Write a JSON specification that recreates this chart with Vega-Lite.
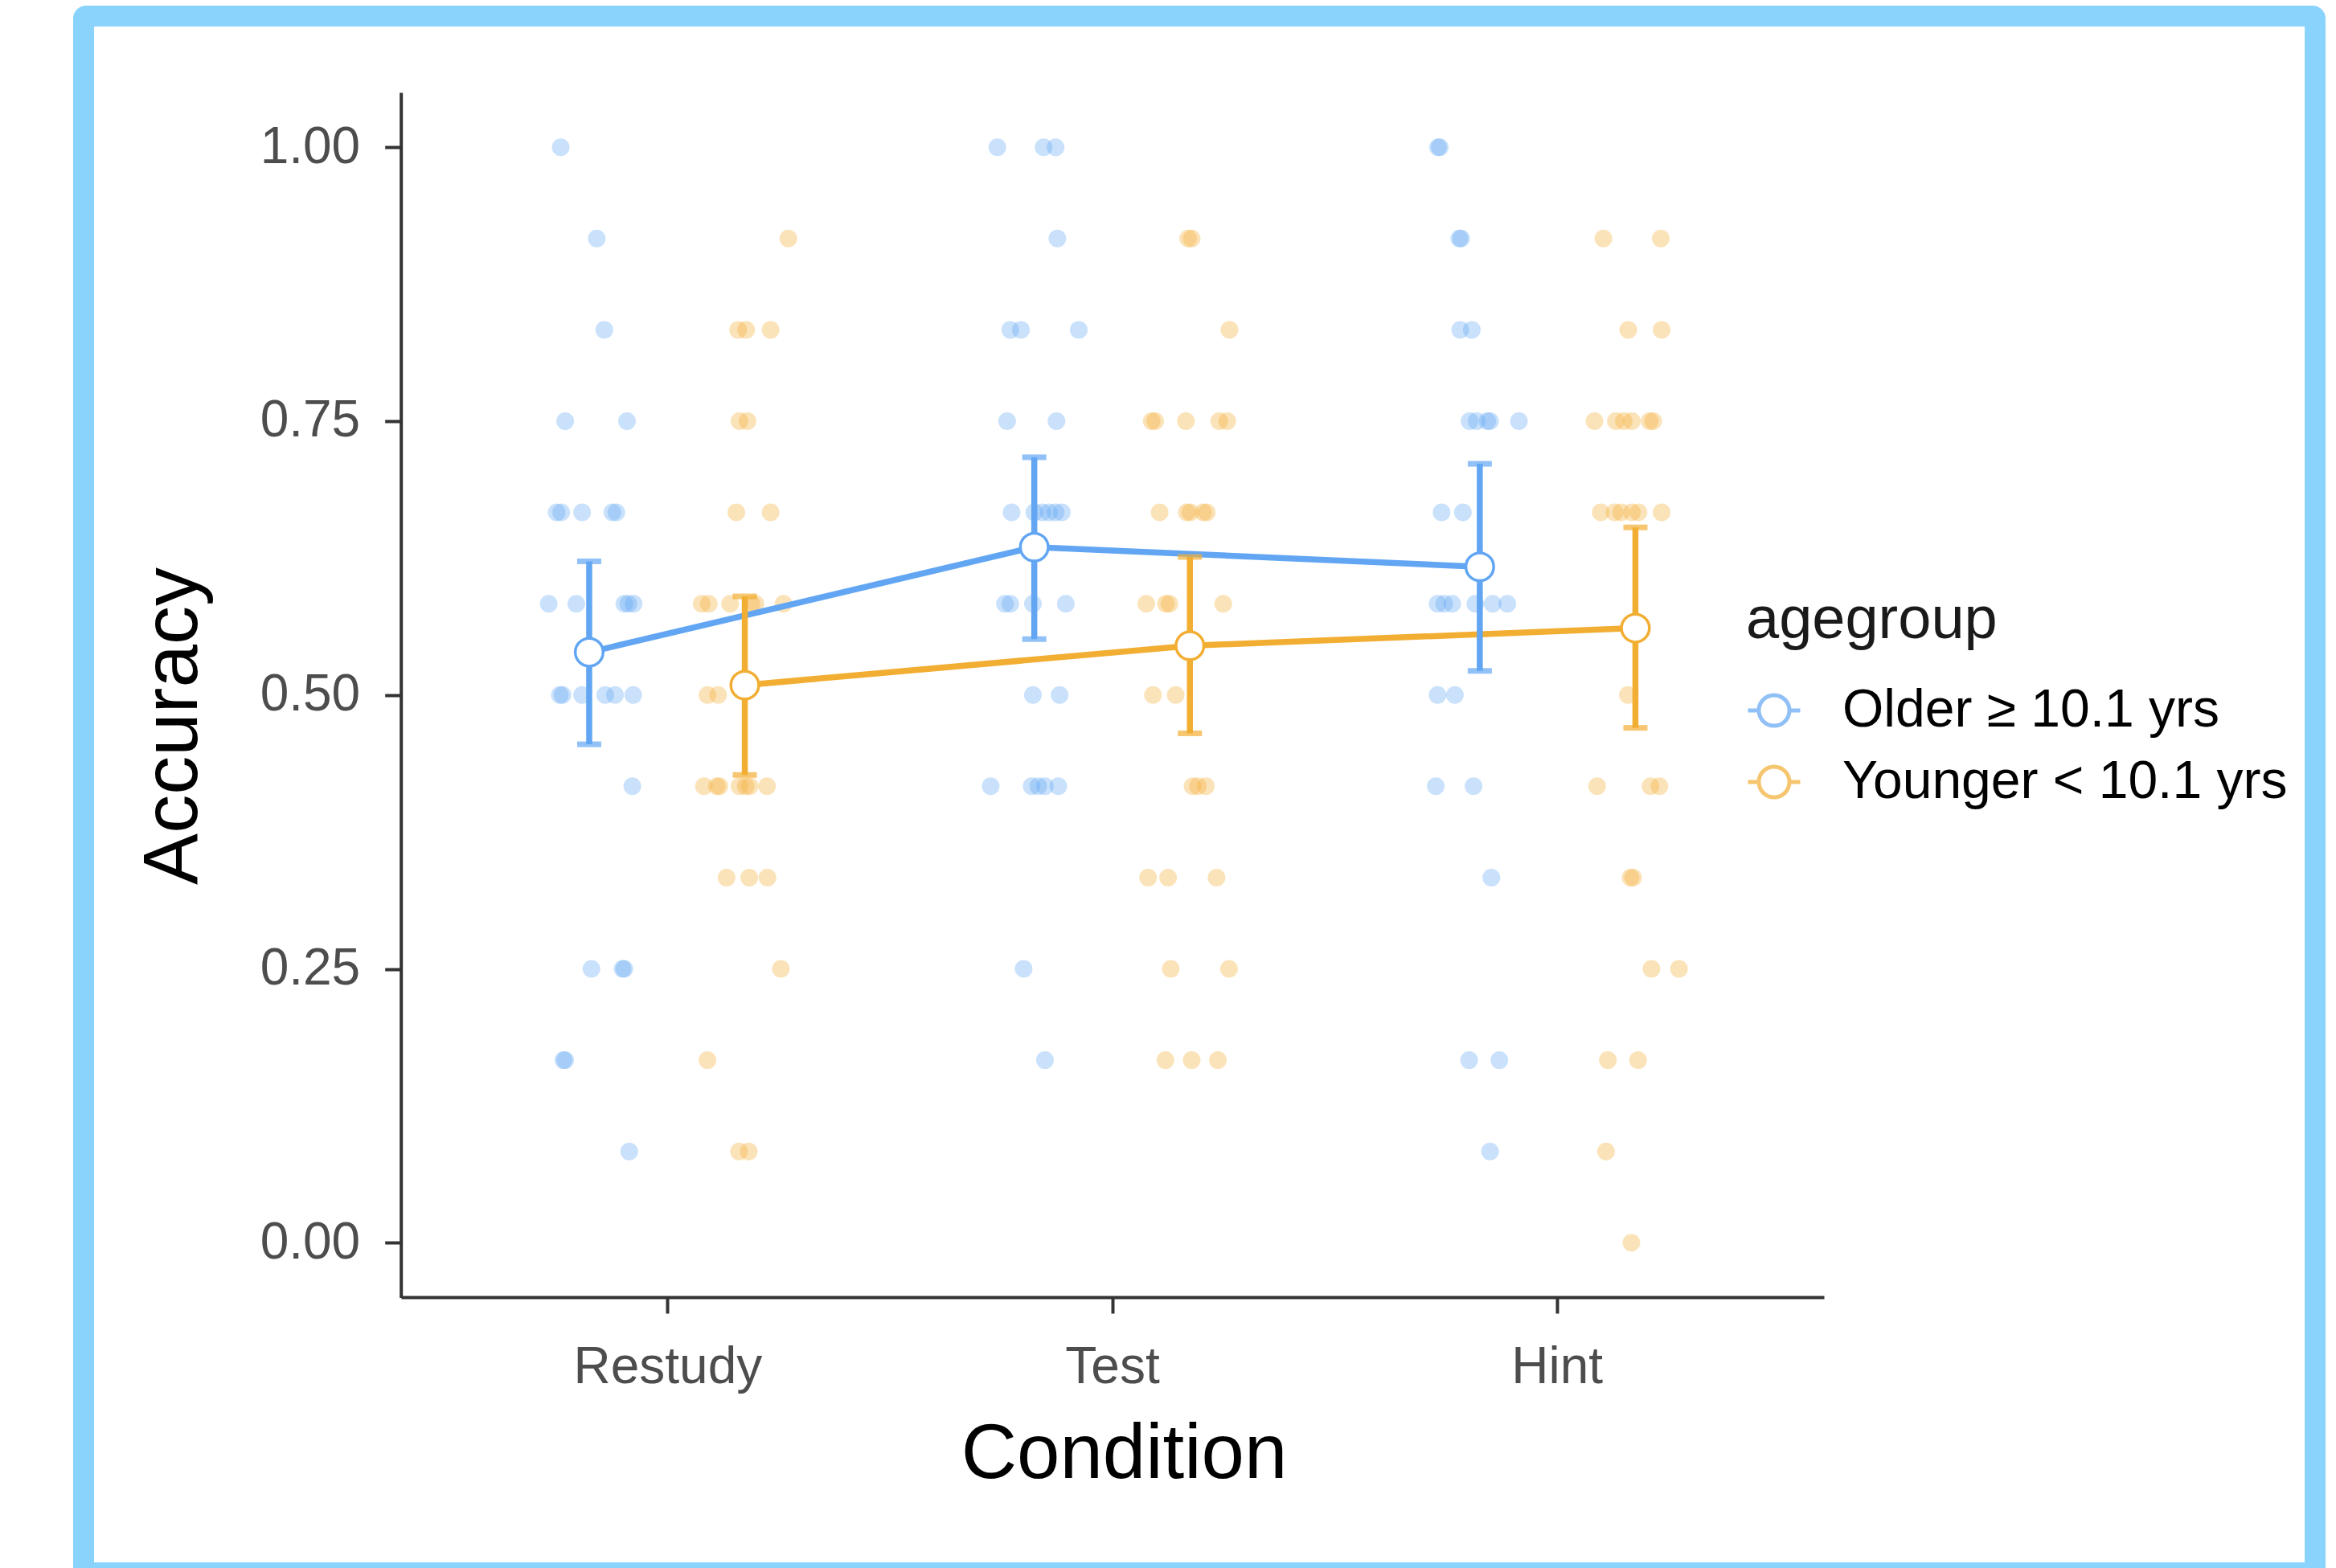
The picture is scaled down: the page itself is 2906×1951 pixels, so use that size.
{
  "$schema": "https://vega.github.io/schema/vega-lite/v6.json",
  "width": 2776,
  "height": 1937,
  "autosize": {"type": "none"},
  "padding": {"left": 104, "top": 20, "right": 26, "bottom": 0},
  "background": "white",
  "config": {
    "view": {"fill": "white", "stroke": "#8AD3FC", "strokeWidth": 26, "cornerRadius": 3},
    "font": "Liberation Sans",
    "axisY": {
      "offset": -394.7, "grid": false,
      "domainColor": "#333333", "domainWidth": 4, "tickColor": "#333333", "tickWidth": 4, "tickSize": 20,
      "labelFont": "Liberation Sans", "labelFontSize": 64, "labelColor": "#4d4d4d", "labelPadding": 31, "labelFlush": false, "labelOverlap": false,
      "titleFont": "Liberation Sans", "titleFontSize": 96, "titleColor": "black", "titleFontWeight": "normal",
      "titleAngle": -90, "titleX": -254, "titleY": 883, "titleBaseline": "alphabetic", "titleAlign": "center", "titleLimit": 2000
    }
  },
  "datasets": {
    "pts": [
      {"Condition": "Restudy", "agegroup": "Older ≥ 10.1 yrs", "Accuracy": 1, "off": -0.241},
      {"Condition": "Restudy", "agegroup": "Older ≥ 10.1 yrs", "Accuracy": 0.9167, "off": -0.160},
      {"Condition": "Restudy", "agegroup": "Older ≥ 10.1 yrs", "Accuracy": 0.8333, "off": -0.143},
      {"Condition": "Restudy", "agegroup": "Older ≥ 10.1 yrs", "Accuracy": 0.75, "off": -0.231},
      {"Condition": "Restudy", "agegroup": "Older ≥ 10.1 yrs", "Accuracy": 0.75, "off": -0.092},
      {"Condition": "Restudy", "agegroup": "Older ≥ 10.1 yrs", "Accuracy": 0.6667, "off": -0.250},
      {"Condition": "Restudy", "agegroup": "Older ≥ 10.1 yrs", "Accuracy": 0.6667, "off": -0.240},
      {"Condition": "Restudy", "agegroup": "Older ≥ 10.1 yrs", "Accuracy": 0.6667, "off": -0.193},
      {"Condition": "Restudy", "agegroup": "Older ≥ 10.1 yrs", "Accuracy": 0.6667, "off": -0.125},
      {"Condition": "Restudy", "agegroup": "Older ≥ 10.1 yrs", "Accuracy": 0.6667, "off": -0.116},
      {"Condition": "Restudy", "agegroup": "Older ≥ 10.1 yrs", "Accuracy": 0.5833, "off": -0.268},
      {"Condition": "Restudy", "agegroup": "Older ≥ 10.1 yrs", "Accuracy": 0.5833, "off": -0.206},
      {"Condition": "Restudy", "agegroup": "Older ≥ 10.1 yrs", "Accuracy": 0.5833, "off": -0.098},
      {"Condition": "Restudy", "agegroup": "Older ≥ 10.1 yrs", "Accuracy": 0.5833, "off": -0.089},
      {"Condition": "Restudy", "agegroup": "Older ≥ 10.1 yrs", "Accuracy": 0.5833, "off": -0.077},
      {"Condition": "Restudy", "agegroup": "Older ≥ 10.1 yrs", "Accuracy": 0.5, "off": -0.243},
      {"Condition": "Restudy", "agegroup": "Older ≥ 10.1 yrs", "Accuracy": 0.5, "off": -0.237},
      {"Condition": "Restudy", "agegroup": "Older ≥ 10.1 yrs", "Accuracy": 0.5, "off": -0.193},
      {"Condition": "Restudy", "agegroup": "Older ≥ 10.1 yrs", "Accuracy": 0.5, "off": -0.141},
      {"Condition": "Restudy", "agegroup": "Older ≥ 10.1 yrs", "Accuracy": 0.5, "off": -0.119},
      {"Condition": "Restudy", "agegroup": "Older ≥ 10.1 yrs", "Accuracy": 0.5, "off": -0.078},
      {"Condition": "Restudy", "agegroup": "Older ≥ 10.1 yrs", "Accuracy": 0.4167, "off": -0.080},
      {"Condition": "Restudy", "agegroup": "Older ≥ 10.1 yrs", "Accuracy": 0.25, "off": -0.172},
      {"Condition": "Restudy", "agegroup": "Older ≥ 10.1 yrs", "Accuracy": 0.25, "off": -0.102},
      {"Condition": "Restudy", "agegroup": "Older ≥ 10.1 yrs", "Accuracy": 0.25, "off": -0.098},
      {"Condition": "Restudy", "agegroup": "Older ≥ 10.1 yrs", "Accuracy": 0.1667, "off": -0.235},
      {"Condition": "Restudy", "agegroup": "Older ≥ 10.1 yrs", "Accuracy": 0.1667, "off": -0.231},
      {"Condition": "Restudy", "agegroup": "Older ≥ 10.1 yrs", "Accuracy": 0.0833, "off": -0.087},

      {"Condition": "Restudy", "agegroup": "Younger < 10.1 yrs", "Accuracy": 0.9167, "off": 0.271},
      {"Condition": "Restudy", "agegroup": "Younger < 10.1 yrs", "Accuracy": 0.8333, "off": 0.158},
      {"Condition": "Restudy", "agegroup": "Younger < 10.1 yrs", "Accuracy": 0.8333, "off": 0.176},
      {"Condition": "Restudy", "agegroup": "Younger < 10.1 yrs", "Accuracy": 0.8333, "off": 0.231},
      {"Condition": "Restudy", "agegroup": "Younger < 10.1 yrs", "Accuracy": 0.75, "off": 0.161},
      {"Condition": "Restudy", "agegroup": "Younger < 10.1 yrs", "Accuracy": 0.75, "off": 0.179},
      {"Condition": "Restudy", "agegroup": "Younger < 10.1 yrs", "Accuracy": 0.6667, "off": 0.154},
      {"Condition": "Restudy", "agegroup": "Younger < 10.1 yrs", "Accuracy": 0.6667, "off": 0.231},
      {"Condition": "Restudy", "agegroup": "Younger < 10.1 yrs", "Accuracy": 0.5833, "off": 0.076},
      {"Condition": "Restudy", "agegroup": "Younger < 10.1 yrs", "Accuracy": 0.5833, "off": 0.092},
      {"Condition": "Restudy", "agegroup": "Younger < 10.1 yrs", "Accuracy": 0.5833, "off": 0.140},
      {"Condition": "Restudy", "agegroup": "Younger < 10.1 yrs", "Accuracy": 0.5833, "off": 0.188},
      {"Condition": "Restudy", "agegroup": "Younger < 10.1 yrs", "Accuracy": 0.5833, "off": 0.197},
      {"Condition": "Restudy", "agegroup": "Younger < 10.1 yrs", "Accuracy": 0.5833, "off": 0.260},
      {"Condition": "Restudy", "agegroup": "Younger < 10.1 yrs", "Accuracy": 0.5, "off": 0.089},
      {"Condition": "Restudy", "agegroup": "Younger < 10.1 yrs", "Accuracy": 0.5, "off": 0.113},
      {"Condition": "Restudy", "agegroup": "Younger < 10.1 yrs", "Accuracy": 0.4167, "off": 0.081},
      {"Condition": "Restudy", "agegroup": "Younger < 10.1 yrs", "Accuracy": 0.4167, "off": 0.110},
      {"Condition": "Restudy", "agegroup": "Younger < 10.1 yrs", "Accuracy": 0.4167, "off": 0.116},
      {"Condition": "Restudy", "agegroup": "Younger < 10.1 yrs", "Accuracy": 0.4167, "off": 0.161},
      {"Condition": "Restudy", "agegroup": "Younger < 10.1 yrs", "Accuracy": 0.4167, "off": 0.175},
      {"Condition": "Restudy", "agegroup": "Younger < 10.1 yrs", "Accuracy": 0.4167, "off": 0.184},
      {"Condition": "Restudy", "agegroup": "Younger < 10.1 yrs", "Accuracy": 0.4167, "off": 0.223},
      {"Condition": "Restudy", "agegroup": "Younger < 10.1 yrs", "Accuracy": 0.3333, "off": 0.132},
      {"Condition": "Restudy", "agegroup": "Younger < 10.1 yrs", "Accuracy": 0.3333, "off": 0.183},
      {"Condition": "Restudy", "agegroup": "Younger < 10.1 yrs", "Accuracy": 0.3333, "off": 0.224},
      {"Condition": "Restudy", "agegroup": "Younger < 10.1 yrs", "Accuracy": 0.25, "off": 0.254},
      {"Condition": "Restudy", "agegroup": "Younger < 10.1 yrs", "Accuracy": 0.1667, "off": 0.089},
      {"Condition": "Restudy", "agegroup": "Younger < 10.1 yrs", "Accuracy": 0.0833, "off": 0.160},
      {"Condition": "Restudy", "agegroup": "Younger < 10.1 yrs", "Accuracy": 0.0833, "off": 0.182},

      {"Condition": "Test", "agegroup": "Older ≥ 10.1 yrs", "Accuracy": 1, "off": -0.259},
      {"Condition": "Test", "agegroup": "Older ≥ 10.1 yrs", "Accuracy": 1, "off": -0.155},
      {"Condition": "Test", "agegroup": "Older ≥ 10.1 yrs", "Accuracy": 1, "off": -0.128},
      {"Condition": "Test", "agegroup": "Older ≥ 10.1 yrs", "Accuracy": 0.9167, "off": -0.124},
      {"Condition": "Test", "agegroup": "Older ≥ 10.1 yrs", "Accuracy": 0.8333, "off": -0.230},
      {"Condition": "Test", "agegroup": "Older ≥ 10.1 yrs", "Accuracy": 0.8333, "off": -0.206},
      {"Condition": "Test", "agegroup": "Older ≥ 10.1 yrs", "Accuracy": 0.8333, "off": -0.076},
      {"Condition": "Test", "agegroup": "Older ≥ 10.1 yrs", "Accuracy": 0.75, "off": -0.237},
      {"Condition": "Test", "agegroup": "Older ≥ 10.1 yrs", "Accuracy": 0.75, "off": -0.126},
      {"Condition": "Test", "agegroup": "Older ≥ 10.1 yrs", "Accuracy": 0.6667, "off": -0.227},
      {"Condition": "Test", "agegroup": "Older ≥ 10.1 yrs", "Accuracy": 0.6667, "off": -0.176},
      {"Condition": "Test", "agegroup": "Older ≥ 10.1 yrs", "Accuracy": 0.6667, "off": -0.158},
      {"Condition": "Test", "agegroup": "Older ≥ 10.1 yrs", "Accuracy": 0.6667, "off": -0.143},
      {"Condition": "Test", "agegroup": "Older ≥ 10.1 yrs", "Accuracy": 0.6667, "off": -0.128},
      {"Condition": "Test", "agegroup": "Older ≥ 10.1 yrs", "Accuracy": 0.6667, "off": -0.114},
      {"Condition": "Test", "agegroup": "Older ≥ 10.1 yrs", "Accuracy": 0.5833, "off": -0.242},
      {"Condition": "Test", "agegroup": "Older ≥ 10.1 yrs", "Accuracy": 0.5833, "off": -0.230},
      {"Condition": "Test", "agegroup": "Older ≥ 10.1 yrs", "Accuracy": 0.5833, "off": -0.179},
      {"Condition": "Test", "agegroup": "Older ≥ 10.1 yrs", "Accuracy": 0.5833, "off": -0.105},
      {"Condition": "Test", "agegroup": "Older ≥ 10.1 yrs", "Accuracy": 0.5, "off": -0.179},
      {"Condition": "Test", "agegroup": "Older ≥ 10.1 yrs", "Accuracy": 0.5, "off": -0.119},
      {"Condition": "Test", "agegroup": "Older ≥ 10.1 yrs", "Accuracy": 0.4167, "off": -0.274},
      {"Condition": "Test", "agegroup": "Older ≥ 10.1 yrs", "Accuracy": 0.4167, "off": -0.182},
      {"Condition": "Test", "agegroup": "Older ≥ 10.1 yrs", "Accuracy": 0.4167, "off": -0.167},
      {"Condition": "Test", "agegroup": "Older ≥ 10.1 yrs", "Accuracy": 0.4167, "off": -0.152},
      {"Condition": "Test", "agegroup": "Older ≥ 10.1 yrs", "Accuracy": 0.4167, "off": -0.122},
      {"Condition": "Test", "agegroup": "Older ≥ 10.1 yrs", "Accuracy": 0.25, "off": -0.200},
      {"Condition": "Test", "agegroup": "Older ≥ 10.1 yrs", "Accuracy": 0.1667, "off": -0.152},

      {"Condition": "Test", "agegroup": "Younger < 10.1 yrs", "Accuracy": 0.9167, "off": 0.170},
      {"Condition": "Test", "agegroup": "Younger < 10.1 yrs", "Accuracy": 0.9167, "off": 0.178},
      {"Condition": "Test", "agegroup": "Younger < 10.1 yrs", "Accuracy": 0.8333, "off": 0.263},
      {"Condition": "Test", "agegroup": "Younger < 10.1 yrs", "Accuracy": 0.75, "off": 0.088},
      {"Condition": "Test", "agegroup": "Younger < 10.1 yrs", "Accuracy": 0.75, "off": 0.096},
      {"Condition": "Test", "agegroup": "Younger < 10.1 yrs", "Accuracy": 0.75, "off": 0.165},
      {"Condition": "Test", "agegroup": "Younger < 10.1 yrs", "Accuracy": 0.75, "off": 0.240},
      {"Condition": "Test", "agegroup": "Younger < 10.1 yrs", "Accuracy": 0.75, "off": 0.258},
      {"Condition": "Test", "agegroup": "Younger < 10.1 yrs", "Accuracy": 0.6667, "off": 0.106},
      {"Condition": "Test", "agegroup": "Younger < 10.1 yrs", "Accuracy": 0.6667, "off": 0.167},
      {"Condition": "Test", "agegroup": "Younger < 10.1 yrs", "Accuracy": 0.6667, "off": 0.175},
      {"Condition": "Test", "agegroup": "Younger < 10.1 yrs", "Accuracy": 0.6667, "off": 0.204},
      {"Condition": "Test", "agegroup": "Younger < 10.1 yrs", "Accuracy": 0.6667, "off": 0.212},
      {"Condition": "Test", "agegroup": "Younger < 10.1 yrs", "Accuracy": 0.5833, "off": 0.076},
      {"Condition": "Test", "agegroup": "Younger < 10.1 yrs", "Accuracy": 0.5833, "off": 0.120},
      {"Condition": "Test", "agegroup": "Younger < 10.1 yrs", "Accuracy": 0.5833, "off": 0.128},
      {"Condition": "Test", "agegroup": "Younger < 10.1 yrs", "Accuracy": 0.5833, "off": 0.249},
      {"Condition": "Test", "agegroup": "Younger < 10.1 yrs", "Accuracy": 0.5, "off": 0.091},
      {"Condition": "Test", "agegroup": "Younger < 10.1 yrs", "Accuracy": 0.5, "off": 0.142},
      {"Condition": "Test", "agegroup": "Younger < 10.1 yrs", "Accuracy": 0.4167, "off": 0.180},
      {"Condition": "Test", "agegroup": "Younger < 10.1 yrs", "Accuracy": 0.4167, "off": 0.192},
      {"Condition": "Test", "agegroup": "Younger < 10.1 yrs", "Accuracy": 0.4167, "off": 0.210},
      {"Condition": "Test", "agegroup": "Younger < 10.1 yrs", "Accuracy": 0.3333, "off": 0.080},
      {"Condition": "Test", "agegroup": "Younger < 10.1 yrs", "Accuracy": 0.3333, "off": 0.125},
      {"Condition": "Test", "agegroup": "Younger < 10.1 yrs", "Accuracy": 0.3333, "off": 0.234},
      {"Condition": "Test", "agegroup": "Younger < 10.1 yrs", "Accuracy": 0.25, "off": 0.131},
      {"Condition": "Test", "agegroup": "Younger < 10.1 yrs", "Accuracy": 0.25, "off": 0.262},
      {"Condition": "Test", "agegroup": "Younger < 10.1 yrs", "Accuracy": 0.1667, "off": 0.119},
      {"Condition": "Test", "agegroup": "Younger < 10.1 yrs", "Accuracy": 0.1667, "off": 0.178},
      {"Condition": "Test", "agegroup": "Younger < 10.1 yrs", "Accuracy": 0.1667, "off": 0.237},

      {"Condition": "Hint", "agegroup": "Older ≥ 10.1 yrs", "Accuracy": 1, "off": -0.268},
      {"Condition": "Hint", "agegroup": "Older ≥ 10.1 yrs", "Accuracy": 1, "off": -0.264},
      {"Condition": "Hint", "agegroup": "Older ≥ 10.1 yrs", "Accuracy": 0.9167, "off": -0.220},
      {"Condition": "Hint", "agegroup": "Older ≥ 10.1 yrs", "Accuracy": 0.9167, "off": -0.216},
      {"Condition": "Hint", "agegroup": "Older ≥ 10.1 yrs", "Accuracy": 0.8333, "off": -0.218},
      {"Condition": "Hint", "agegroup": "Older ≥ 10.1 yrs", "Accuracy": 0.8333, "off": -0.192},
      {"Condition": "Hint", "agegroup": "Older ≥ 10.1 yrs", "Accuracy": 0.75, "off": -0.197},
      {"Condition": "Hint", "agegroup": "Older ≥ 10.1 yrs", "Accuracy": 0.75, "off": -0.181},
      {"Condition": "Hint", "agegroup": "Older ≥ 10.1 yrs", "Accuracy": 0.75, "off": -0.157},
      {"Condition": "Hint", "agegroup": "Older ≥ 10.1 yrs", "Accuracy": 0.75, "off": -0.151},
      {"Condition": "Hint", "agegroup": "Older ≥ 10.1 yrs", "Accuracy": 0.75, "off": -0.086},
      {"Condition": "Hint", "agegroup": "Older ≥ 10.1 yrs", "Accuracy": 0.6667, "off": -0.260},
      {"Condition": "Hint", "agegroup": "Older ≥ 10.1 yrs", "Accuracy": 0.6667, "off": -0.212},
      {"Condition": "Hint", "agegroup": "Older ≥ 10.1 yrs", "Accuracy": 0.5833, "off": -0.269},
      {"Condition": "Hint", "agegroup": "Older ≥ 10.1 yrs", "Accuracy": 0.5833, "off": -0.254},
      {"Condition": "Hint", "agegroup": "Older ≥ 10.1 yrs", "Accuracy": 0.5833, "off": -0.236},
      {"Condition": "Hint", "agegroup": "Older ≥ 10.1 yrs", "Accuracy": 0.5833, "off": -0.184},
      {"Condition": "Hint", "agegroup": "Older ≥ 10.1 yrs", "Accuracy": 0.5833, "off": -0.145},
      {"Condition": "Hint", "agegroup": "Older ≥ 10.1 yrs", "Accuracy": 0.5833, "off": -0.112},
      {"Condition": "Hint", "agegroup": "Older ≥ 10.1 yrs", "Accuracy": 0.5, "off": -0.269},
      {"Condition": "Hint", "agegroup": "Older ≥ 10.1 yrs", "Accuracy": 0.5, "off": -0.230},
      {"Condition": "Hint", "agegroup": "Older ≥ 10.1 yrs", "Accuracy": 0.4167, "off": -0.273},
      {"Condition": "Hint", "agegroup": "Older ≥ 10.1 yrs", "Accuracy": 0.4167, "off": -0.188},
      {"Condition": "Hint", "agegroup": "Older ≥ 10.1 yrs", "Accuracy": 0.3333, "off": -0.148},
      {"Condition": "Hint", "agegroup": "Older ≥ 10.1 yrs", "Accuracy": 0.1667, "off": -0.198},
      {"Condition": "Hint", "agegroup": "Older ≥ 10.1 yrs", "Accuracy": 0.1667, "off": -0.130},
      {"Condition": "Hint", "agegroup": "Older ≥ 10.1 yrs", "Accuracy": 0.0833, "off": -0.151},

      {"Condition": "Hint", "agegroup": "Younger < 10.1 yrs", "Accuracy": 0.9167, "off": 0.104},
      {"Condition": "Hint", "agegroup": "Younger < 10.1 yrs", "Accuracy": 0.9167, "off": 0.233},
      {"Condition": "Hint", "agegroup": "Younger < 10.1 yrs", "Accuracy": 0.8333, "off": 0.160},
      {"Condition": "Hint", "agegroup": "Younger < 10.1 yrs", "Accuracy": 0.8333, "off": 0.235},
      {"Condition": "Hint", "agegroup": "Younger < 10.1 yrs", "Accuracy": 0.75, "off": 0.084},
      {"Condition": "Hint", "agegroup": "Younger < 10.1 yrs", "Accuracy": 0.75, "off": 0.132},
      {"Condition": "Hint", "agegroup": "Younger < 10.1 yrs", "Accuracy": 0.75, "off": 0.150},
      {"Condition": "Hint", "agegroup": "Younger < 10.1 yrs", "Accuracy": 0.75, "off": 0.168},
      {"Condition": "Hint", "agegroup": "Younger < 10.1 yrs", "Accuracy": 0.75, "off": 0.208},
      {"Condition": "Hint", "agegroup": "Younger < 10.1 yrs", "Accuracy": 0.75, "off": 0.216},
      {"Condition": "Hint", "agegroup": "Younger < 10.1 yrs", "Accuracy": 0.6667, "off": 0.098},
      {"Condition": "Hint", "agegroup": "Younger < 10.1 yrs", "Accuracy": 0.6667, "off": 0.129},
      {"Condition": "Hint", "agegroup": "Younger < 10.1 yrs", "Accuracy": 0.6667, "off": 0.144},
      {"Condition": "Hint", "agegroup": "Younger < 10.1 yrs", "Accuracy": 0.6667, "off": 0.168},
      {"Condition": "Hint", "agegroup": "Younger < 10.1 yrs", "Accuracy": 0.6667, "off": 0.183},
      {"Condition": "Hint", "agegroup": "Younger < 10.1 yrs", "Accuracy": 0.6667, "off": 0.235},
      {"Condition": "Hint", "agegroup": "Younger < 10.1 yrs", "Accuracy": 0.5, "off": 0.159},
      {"Condition": "Hint", "agegroup": "Younger < 10.1 yrs", "Accuracy": 0.4167, "off": 0.090},
      {"Condition": "Hint", "agegroup": "Younger < 10.1 yrs", "Accuracy": 0.4167, "off": 0.210},
      {"Condition": "Hint", "agegroup": "Younger < 10.1 yrs", "Accuracy": 0.4167, "off": 0.230},
      {"Condition": "Hint", "agegroup": "Younger < 10.1 yrs", "Accuracy": 0.3333, "off": 0.165},
      {"Condition": "Hint", "agegroup": "Younger < 10.1 yrs", "Accuracy": 0.3333, "off": 0.171},
      {"Condition": "Hint", "agegroup": "Younger < 10.1 yrs", "Accuracy": 0.25, "off": 0.212},
      {"Condition": "Hint", "agegroup": "Younger < 10.1 yrs", "Accuracy": 0.25, "off": 0.274},
      {"Condition": "Hint", "agegroup": "Younger < 10.1 yrs", "Accuracy": 0.1667, "off": 0.114},
      {"Condition": "Hint", "agegroup": "Younger < 10.1 yrs", "Accuracy": 0.1667, "off": 0.182},
      {"Condition": "Hint", "agegroup": "Younger < 10.1 yrs", "Accuracy": 0.0833, "off": 0.110},
      {"Condition": "Hint", "agegroup": "Younger < 10.1 yrs", "Accuracy": 0, "off": 0.167}
    ],
    "means": [
      {"Condition": "Restudy", "agegroup": "Older ≥ 10.1 yrs", "mean": 0.539, "lo": 0.455, "hi": 0.622, "off": -0.177},
      {"Condition": "Test", "agegroup": "Older ≥ 10.1 yrs", "mean": 0.635, "lo": 0.551, "hi": 0.717, "off": -0.176},
      {"Condition": "Hint", "agegroup": "Older ≥ 10.1 yrs", "mean": 0.617, "lo": 0.522, "hi": 0.711, "off": -0.174},
      {"Condition": "Restudy", "agegroup": "Younger < 10.1 yrs", "mean": 0.509, "lo": 0.427, "hi": 0.590, "off": 0.173},
      {"Condition": "Test", "agegroup": "Younger < 10.1 yrs", "mean": 0.545, "lo": 0.465, "hi": 0.626, "off": 0.174},
      {"Condition": "Hint", "agegroup": "Younger < 10.1 yrs", "mean": 0.561, "lo": 0.470, "hi": 0.653, "off": 0.176}
    ]
  },
  "encoding": {
    "x": {
      "field": "Condition", "type": "nominal",
      "sort": ["Restudy", "Test", "Hint"],
      "scale": {"type": "band", "domain": ["Restudy", "Test", "Hint"], "range": [395, 2165], "paddingInner": 0, "paddingOuter": 0.1},
      "axis": {
        "title": "Condition", "orient": "bottom", "offset": -343, "bandPosition": 0.5, "grid": false,
        "domainColor": "#333333", "domainWidth": 4, "tickColor": "#333333", "tickWidth": 4, "tickSize": 20,
        "labelFont": "Liberation Sans", "labelFontSize": 64, "labelColor": "#4d4d4d", "labelPadding": 35, "labelAngle": 0, "labelLimit": 1000,
        "titleFont": "Liberation Sans", "titleFontSize": 96, "titleColor": "black", "titleFontWeight": "normal", "titleLimit": 2000,
        "titleX": 1294, "titleY": 224, "titleBaseline": "alphabetic", "titleAlign": "center", "titleAngle": 0
      }
    },
    "xOffset": {"field": "off", "type": "quantitative", "scale": {"domain": [-0.5, 0.5], "range": [0, 553.1], "zero": false, "nice": false}}
  },
  "layer": [
    {
      "data": {"name": "pts"},
      "mark": {"type": "point", "filled": true, "size": 484, "opacity": 0.34},
      "encoding": {
        "y": {
          "field": "Accuracy", "type": "quantitative",
          "scale": {"domain": [-0.05, 1.05], "range": [1594.5, 95], "nice": false, "zero": false},
          "axis": {"title": "Accuracy", "values": [0, 0.25, 0.5, 0.75, 1], "format": ".2f"}
        },
        "fill": {"field": "agegroup", "type": "nominal", "scale": {"domain": ["Younger < 10.1 yrs", "Older ≥ 10.1 yrs"], "range": ["#F2AE33", "#62A6F3"]}, "legend": null}
      }
    },
    {
      "data": {"name": "means"},
      "mark": {"type": "line", "strokeWidth": 7.5},
      "encoding": {
        "y": {"field": "mean", "type": "quantitative", "axis": {"title": "Accuracy", "values": [0, 0.25, 0.5, 0.75, 1], "format": ".2f"}},
        "order": {"value": null},
        "stroke": {
          "field": "agegroup", "type": "nominal",
          "scale": {"domain": ["Older ≥ 10.1 yrs", "Younger < 10.1 yrs"], "range": ["#62A6F3", "#F2AE33"]},
          "legend": {
            "title": "agegroup", "orient": "none", "legendX": 2068, "legendY": 716, "padding": 0,
            "titleFont": "Liberation Sans", "titleFontSize": 74, "titleFontWeight": "normal", "titleColor": "#1a1a1a", "titlePadding": 39, "titleLimit": 2000,
            "labelFont": "Liberation Sans", "labelFontSize": 66, "labelColor": "black", "labelOffset": 50, "labelLimit": 2000,
            "symbolType": "M-1,0L-0.585,0M0.585,0L1,0M0.585,0A0.585,0.585,0,1,1,-0.585,0A0.585,0.585,0,1,1,0.585,0Z",
            "symbolSize": 4225, "symbolStrokeWidth": 5, "symbolFillColor": "white", "symbolOpacity": 1, "rowPadding": 21
          }
        }
      }
    },
    {
      "data": {"name": "means"},
      "mark": {"type": "rule", "strokeWidth": 7.5},
      "encoding": {
        "y": {"field": "lo", "type": "quantitative", "axis": {"title": "Accuracy", "values": [0, 0.25, 0.5, 0.75, 1], "format": ".2f"}},
        "y2": {"field": "hi"},
        "stroke": {"field": "agegroup", "type": "nominal"}
      }
    },
    {
      "data": {"name": "means"},
      "mark": {"type": "tick", "orient": "horizontal", "filled": false, "size": 23, "thickness": 0.01, "strokeWidth": 7, "strokeJoin": "miter"},
      "encoding": {
        "y": {"field": "lo", "type": "quantitative", "axis": {"title": "Accuracy", "values": [0, 0.25, 0.5, 0.75, 1], "format": ".2f"}},
        "stroke": {"field": "agegroup", "type": "nominal"}
      }
    },
    {
      "data": {"name": "means"},
      "mark": {"type": "tick", "orient": "horizontal", "filled": false, "size": 23, "thickness": 0.01, "strokeWidth": 7, "strokeJoin": "miter"},
      "encoding": {
        "y": {"field": "hi", "type": "quantitative", "axis": {"title": "Accuracy", "values": [0, 0.25, 0.5, 0.75, 1], "format": ".2f"}},
        "stroke": {"field": "agegroup", "type": "nominal"}
      }
    },
    {
      "data": {"name": "means"},
      "mark": {"type": "point", "filled": false, "fill": "white", "fillOpacity": 1, "size": 1200, "strokeWidth": 3.5, "opacity": 1},
      "encoding": {
        "y": {"field": "mean", "type": "quantitative", "axis": {"title": "Accuracy", "values": [0, 0.25, 0.5, 0.75, 1], "format": ".2f"}},
        "stroke": {"field": "agegroup", "type": "nominal"}
      }
    }
  ]
}
